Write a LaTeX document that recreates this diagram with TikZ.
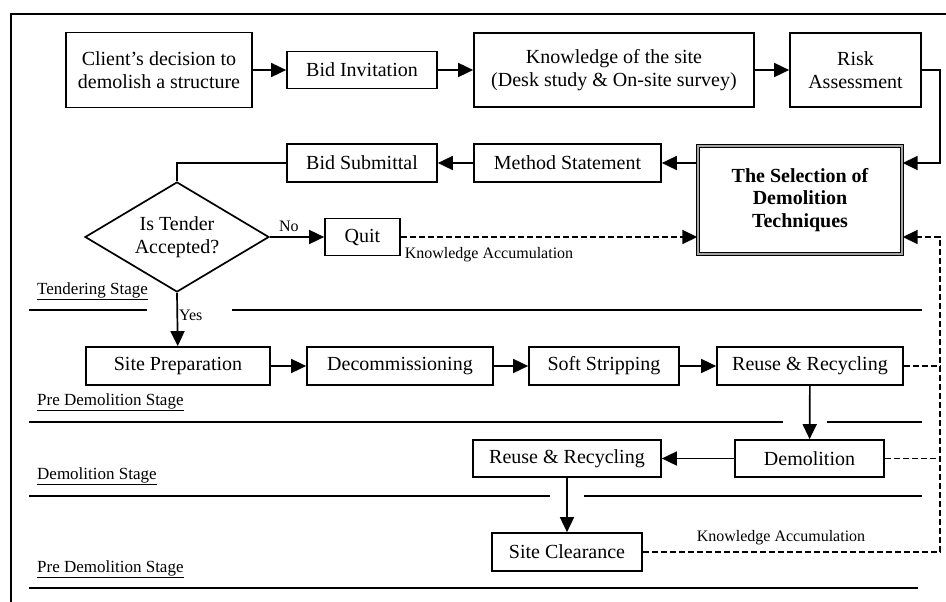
\documentclass[tikz,border=0pt]{standalone}
\usepackage{fontspec}
\setmainfont{Liberation Serif}
\usetikzlibrary{arrows.meta,shapes.geometric}

\begin{document}
\begin{tikzpicture}[x=1pt,y=-1pt,
  box/.style={draw, line width=1.7pt, inner sep=0pt, align=center,
              font=\fontsize{20}{23}\selectfont},
  flow/.style={line width=1.7pt, -{Triangle[length=15pt,width=14pt]}},
  plain/.style={line width=1.7pt},
  fb/.style={line width=1.7pt, dash pattern=on 6pt off 3pt},
  fbarrow/.style={fb, -{Triangle[length=15pt,width=14pt]}},
  small/.style={font=\fontsize{16}{18}\selectfont, inner sep=1pt},
  stage/.style={font=\fontsize{17}{19}\selectfont, inner sep=1pt, anchor=west}
]
\useasboundingbox (0,0) rectangle (946,602);

% outer frame (top and left edges)
\draw[plain] (946,14) -- (11,14) -- (11,602);

% ---- tendering stage ----
\node[box, minimum width=186pt, minimum height=75pt] (client) at (159,70)
  {Client’s decision to\\demolish a structure};
\node[box, minimum width=150pt, minimum height=37pt] (bidinv) at (362,70) {Bid Invitation};
\node[box, minimum width=280pt, minimum height=74pt] (know) at (614,70)
  {Knowledge of the site\\(Desk study \& On-site survey)};
\node[box, minimum width=131pt, minimum height=74pt] (risk) at (855.5,70) {Risk\\Assessment};

\node[draw, line width=1.4pt, double=gray!70, double distance=2pt, inner sep=0pt,
      minimum width=204pt, minimum height=108pt, align=center,
      font=\fontsize{20}{22.5}\selectfont\bfseries] (sel) at (800,200)
  {The Selection of\\Demolition\\Techniques};
\node[box, minimum width=187pt, minimum height=38pt] (meth) at (567.5,163) {Method Statement};
\node[box, minimum width=150pt, minimum height=38pt] (bidsub) at (362,163) {Bid Submittal};

\node[draw, diamond, line width=1.7pt, inner sep=0pt, aspect=1.67,
      minimum width=184pt, minimum height=110pt, align=center,
      font=\fontsize{20}{23}\selectfont] (dia) at (177,237) {Is Tender\\Accepted?};
\node[box, minimum width=75pt, minimum height=37pt] (quit) at (362.5,237) {Quit};

\coordinate (rr) at (940,163);
\draw[flow] (client) -- (bidinv);
\draw[flow] (bidinv) -- (know);
\draw[flow] (know) -- (risk);
\draw[flow] (risk.east) -| (rr) -- (sel.east |- rr);
\draw[flow] (sel.west |- meth) -- (meth);
\draw[flow] (meth) -- (bidsub);
\draw[plain] (bidsub.west) -| (dia.north);
\draw[flow] (dia.east) -- node[small, pos=0.35, above, yshift=3pt] {No} (quit.west);
\draw[fbarrow] (quit.east) -- (sel.west |- quit);
\node[small] (ka1) at (489,255) {Knowledge Accumulation};

\node[stage] (st1) at (36,291) {\underline{Tendering Stage}};
\draw[plain] (29,310) -- (147,310);
\draw[plain] (232,310) -- (922,310);

% ---- pre demolition stage ----
\node[box, minimum width=184pt, minimum height=38pt] (sitep) at (178,366) {Site Preparation};
\node[box, minimum width=186pt, minimum height=38pt] (decom) at (400,366) {Decommissioning};
\node[box, minimum width=150pt, minimum height=38pt] (soft) at (604,366) {Soft Stripping};
\node[box, minimum width=186pt, minimum height=38pt] (reuse1) at (810,366) {Reuse \& Recycling};

\draw[flow] (dia.south) -- node[small, pos=0.42, right] {Yes} (sitep);
\draw[flow] (sitep) -- (decom);
\draw[flow] (decom) -- (soft);
\draw[flow] (soft) -- (reuse1);

\node[stage] (st2) at (36,402) {\underline{Pre Demolition Stage}};
\draw[plain] (29,422) -- (783,422);
\draw[plain] (827,422) -- (922,422);

% ---- demolition stage ----
\node[box, minimum width=149pt, minimum height=37pt] (demo) at (809.5,458.5) {Demolition};
\node[box, minimum width=188pt, minimum height=37pt] (reuse2) at (567,458.5) {Reuse \& Recycling};

\draw[flow] (reuse1) -- (demo);
\draw[flow] (demo) -- (reuse2);

\node[stage] (st3) at (36,476) {\underline{Demolition Stage}};
\draw[plain] (29,496) -- (550,496);
\draw[plain] (584,496) -- (922,496);

% ---- site clearance ----
\node[box, minimum width=150pt, minimum height=38pt] (sc) at (567,552) {Site Clearance};
\draw[flow] (reuse2) -- (sc);

\node[stage] (st4) at (36,569) {\underline{Pre Demolition Stage}};
\draw[plain] (29,588) -- (918,588);

% ---- knowledge feedback loop ----
\coordinate (fbtop) at (940,237);
\coordinate (fbbot) at (940,552);
\draw[fbarrow] (sc.east) -- (fbbot) -- (fbtop) -- (sel.east |- fbtop);
\draw[fb] (reuse1.east) -- (reuse1.east -| fbtop);
\draw[fb] (demo.east) -- (demo.east -| fbtop);
\node[small] (ka2) at (781,538) {Knowledge Accumulation};
\end{tikzpicture}
\end{document}
